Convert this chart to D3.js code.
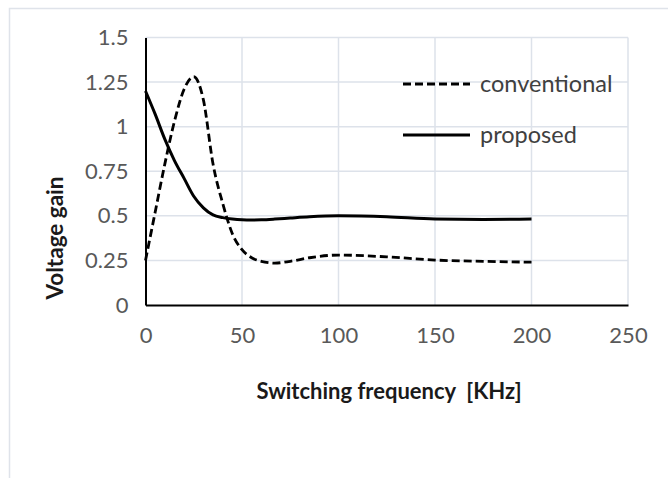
<!DOCTYPE html>
<html>
<head>
<meta charset="utf-8">
<script src="https://cdn.jsdelivr.net/npm/d3@7"></script>
<style>
  html, body { margin: 0; padding: 0; background: #fff; }
  text { font-family: Lato, "Open Sans", sans-serif; white-space: pre; }
</style>
</head>
<body>
<div id="main"></div>
<script>
(function(){

  // values
  const freq = [0, 5, 10, 15, 20, 25, 30, 35, 40, 45, 50, 55, 60, 67, 75, 85, 100, 125, 150, 175, 200]
  const conventional = [0.25, 0.52, 0.79, 1.03, 1.21, 1.28, 1.15, 0.79, 0.57, 0.40, 0.31, 0.265, 0.245, 0.235, 0.245, 0.265, 0.28, 0.27, 0.252, 0.245, 0.24]
  const proposed = [1.2, 1.07, 0.93, 0.81, 0.71, 0.61, 0.545, 0.505, 0.49, 0.482, 0.478, 0.477, 0.478, 0.482, 0.488, 0.495, 0.5, 0.495, 0.482, 0.48, 0.482]
  const xTicks = [0, 50, 100, 150, 200, 250]
  const yTicks = [0, 0.25, 0.5, 0.75, 1, 1.25, 1.5]
  const seriesNames = ["conventional", "proposed"]

  const width = 668
  const height = 478
  const margin = {
    top: 37.5,
    right: 40,
    bottom: 173,
    left: 145.5
  }

  const svg = d3.select("#main").append("svg")
    .attr("width", width)
    .attr("height", height)

  // chart frame
  svg.append("rect")
    .attr("x", 9.5)
    .attr("y", 8.5)
    .attr("width", 700)
    .attr("height", 500)
    .attr("fill", "none")
    .attr("stroke", "#dfe3ea")
    .attr("stroke-width", 1.5)

  const xScale = d3.scaleLinear()
    .domain([0, 250])
    .range([margin.left, width - margin.right])

  const yScale = d3.scaleLinear()
    .domain([0, 1.5])
    .range([height - margin.bottom, margin.top])

  // gridlines
  svg.append("g")
    .selectAll("line")
    .data(xTicks.slice(1))
    .join("line")
      .attr("x1", d => xScale(d))
      .attr("x2", d => xScale(d))
      .attr("y1", yScale(0))
      .attr("y2", yScale(1.5))
      .attr("stroke", "#dde2ea")
      .attr("stroke-width", 1.5)

  svg.append("g")
    .selectAll("line")
    .data(yTicks.slice(1))
    .join("line")
      .attr("x1", xScale(0))
      .attr("x2", xScale(250))
      .attr("y1", d => yScale(d))
      .attr("y2", d => yScale(d))
      .attr("stroke", "#dde2ea")
      .attr("stroke-width", 1.5)

  const xAxis = d3.axisBottom(xScale)
    .tickValues(xTicks)
    .tickSize(0)
    .tickPadding(22)

  const yAxis = d3.axisLeft(yScale)
    .tickValues(yTicks)
    .tickSize(0)
    .tickPadding(17)
    .tickFormat(d => String(d))

  const gx = svg.append("g")
    .attr("transform", `translate(0,${yScale(0)})`)
    .call(xAxis)

  const gy = svg.append("g")
    .attr("transform", `translate(${xScale(0)},0)`)
    .call(yAxis)

  ;[gx, gy].forEach(g => {
    g.select(".domain").attr("stroke", "#000").attr("stroke-width", 2)
    g.selectAll("text")
      .attr("fill", "#595959")
      .style("font-size", "22px")
      .style("font-family", "Lato, sans-serif")
  })

  // axis titles
  svg.append("text")
    .attr("x", 389)
    .attr("y", 399)
    .attr("text-anchor", "middle")
    .attr("fill", "#1a1a1a")
    .style("font-size", "22px")
    .style("font-weight", "bold")
    .text("Switching frequency  [KHz]")

  svg.append("text")
    .attr("transform", "translate(63,238) rotate(-90)")
    .attr("text-anchor", "middle")
    .attr("fill", "#1a1a1a")
    .style("font-size", "22.5px")
    .style("font-weight", "bold")
    .text("Voltage gain")

  const line = d3.line()
    .curve(d3.curveMonotoneX)
    .x(d => xScale(d[0]))
    .y(d => yScale(d[1]))

  const series = [
    { name: seriesNames[0], values: d3.zip(freq, conventional), dash: "8,4", width: 2.8 },
    { name: seriesNames[1], values: d3.zip(freq, proposed), dash: null, width: 3 }
  ]

  svg.append("g")
    .selectAll("path")
    .data(series)
    .join("path")
      .attr("fill", "none")
      .attr("stroke", "#000")
      .attr("stroke-width", d => d.width)
      .attr("stroke-dasharray", d => d.dash)
      .attr("stroke-linejoin", "round")
      .attr("d", d => line(d.values))

  // legend
  const legend = svg.append("g")
    .selectAll("g")
    .data(series)
    .join("g")
      .attr("transform", (d, i) => `translate(403,${84 + i * 51})`)

  legend.append("line")
    .attr("x1", 0)
    .attr("x2", 67)
    .attr("stroke", "#000")
    .attr("stroke-width", d => d.width)
    .attr("stroke-dasharray", d => d.dash)

  legend.append("text")
    .attr("x", 77)
    .attr("y", 8)
    .attr("fill", "#404040")
    .style("font-size", "23.5px")
    .text(d => d.name)

}())
</script>
</body>
</html>
